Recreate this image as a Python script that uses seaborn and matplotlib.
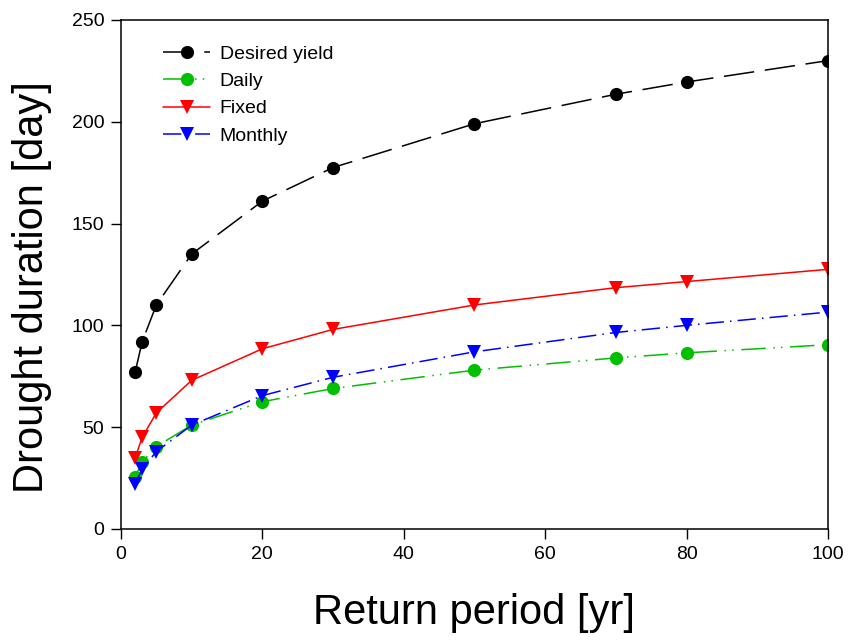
import matplotlib
matplotlib.use("Agg")
import matplotlib.pyplot as plt
import seaborn as sns
import pandas as pd

# datos
periodo = [2, 3, 5, 10, 20, 30, 50, 70, 80, 100]
desired_yield = [77, 92, 110, 135, 161, 177.5, 199, 213.5, 219.5, 230]
daily = [25.5, 33, 40.5, 51, 62.5, 69, 78, 84, 86.5, 90.5]
fixed = [35, 45, 57, 73, 88.5, 98, 110, 118.5, 121.5, 127.5]
monthly = [22, 29.5, 38, 51, 65.5, 74.5, 87, 96.5, 100, 106.5]

series = ['Desired yield', 'Daily', 'Fixed', 'Monthly']
valores = [desired_yield, daily, fixed, monthly]

df = pd.DataFrame({
    'Periodo': periodo * len(series),
    'Duracion': sum(valores, []),
    'Serie': sum([[s] * len(periodo) for s in series], []),
})

sns.set_style("ticks")
plt.rcParams['font.family'] = ['Liberation Sans', 'DejaVu Sans']
plt.rcParams['text.color'] = 'black'
plt.rcParams['axes.labelcolor'] = 'black'
plt.rcParams['xtick.color'] = 'black'
plt.rcParams['ytick.color'] = 'black'

colores = {'Desired yield': 'black', 'Daily': '#00c000', 'Fixed': '#ff0000', 'Monthly': '#0000ff'}
marcadores = {'Desired yield': 'o', 'Daily': 'o', 'Fixed': 'v', 'Monthly': 'v'}
estilos = {
    'Desired yield': (20, 7),
    'Daily': (16, 5, 1, 4, 1, 5),
    'Fixed': '',
    'Monthly': (12, 4, 1, 4),
}

fig = plt.figure(figsize=(8.49, 6.44), dpi=100)
ax = fig.add_axes([0.1425, 0.1786, 0.8327, 0.7905])

sns.lineplot(ax=ax, data=df, x='Periodo', y='Duracion', hue='Serie', style='Serie',
             palette=colores, markers=marcadores, dashes=estilos, hue_order=series,
             style_order=series, markersize=9.5, markeredgewidth=0, linewidth=1.1)

ax.set_xlim(0, 100)
ax.set_ylim(0, 250)
ax.set_xticks([0, 20, 40, 60, 80, 100])
ax.set_yticks([0, 50, 100, 150, 200, 250])
ax.tick_params(axis='both', direction='out', length=7, width=1, labelsize=14, pad=5)
for lado in ['top', 'right', 'left', 'bottom']:
    ax.spines[lado].set_linewidth(1.1)
    ax.spines[lado].set_color('black')

ax.set_xlabel('Return period [yr]', fontsize=30, labelpad=22)
ax.set_ylabel('Drought duration [day]', fontsize=30)
ax.yaxis.set_label_coords(-0.098, 0.475)

ax.legend(title=None, loc='upper left', bbox_to_anchor=(0.035, 0.985), frameon=False,
          fontsize=14, handlelength=2.4, labelspacing=0.5, handletextpad=0.5)

fig.savefig('out.png', dpi=100)
